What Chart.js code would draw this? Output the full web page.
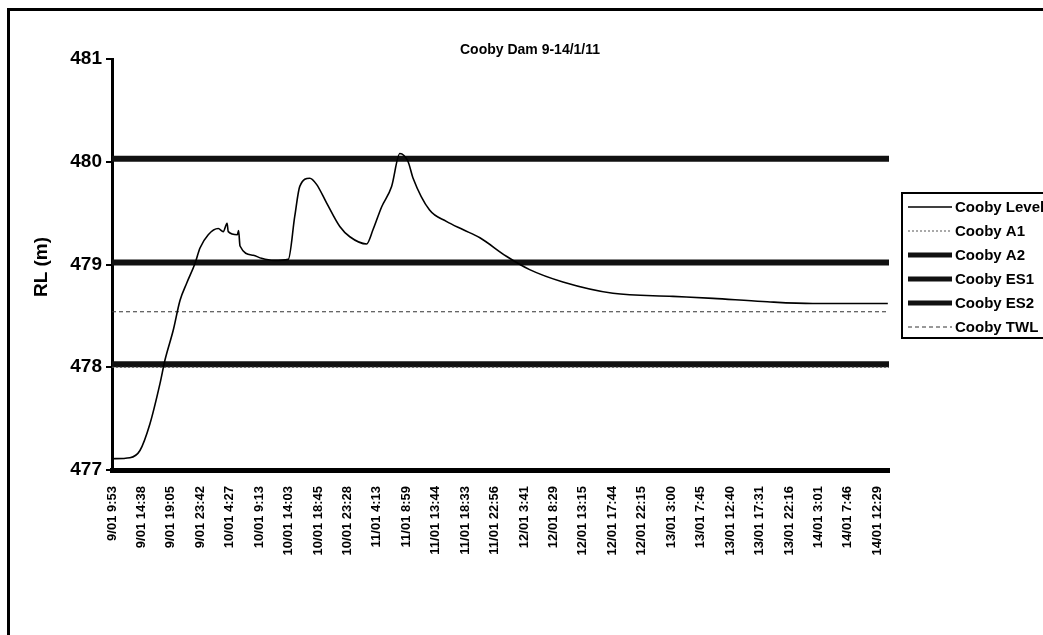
<!DOCTYPE html>
<html>
<head>
<meta charset="utf-8">
<script src="https://cdn.jsdelivr.net/npm/chart.js@4/dist/chart.umd.min.js"></script>
<style>
  html, body { margin: 0; padding: 0; background: #fff; }
  #wrap { position: relative; width: 1043px; height: 635px; overflow: hidden; }
  #frame { position: absolute; left: 7px; top: 8px; right: -10px; bottom: -10px;
           border-left: 3px solid #000; border-top: 3px solid #000; }
  canvas { position: absolute; left: 0; top: 0; }
</style>
</head>
<body>
<div id="wrap">
  <div id="frame"></div>
  <canvas id="chart" width="1043" height="635"></canvas>
</div>
<script>
// Cooby Dam storage level, 9-14 Jan 2011

const titleText = 'Cooby Dam 9-14/1/11';
const yTitle = 'RL (m)';

// category labels on the x axis (one every ~4h45)
const timeLabels = [
  '9/01 9:53', '9/01 14:38', '9/01 19:05', '9/01 23:42', '10/01 4:27',
  '10/01 9:13', '10/01 14:03', '10/01 18:45', '10/01 23:28', '11/01 4:13',
  '11/01 8:59', '11/01 13:44', '11/01 18:33', '11/01 22:56', '12/01 3:41',
  '12/01 8:29', '12/01 13:15', '12/01 17:44', '12/01 22:15', '13/01 3:00',
  '13/01 7:45', '13/01 12:40', '13/01 17:31', '13/01 22:16', '14/01 3:01',
  '14/01 7:46', '14/01 12:29'
];
const xEnd = 26.4; // last reading sits a bit past the last label

// Cooby Level, position in label units / RL (m)
const levelX = [0, 0.61, 0.95, 1.29, 1.63, 1.8, 2.08, 2.31, 2.54, 2.82, 2.99, 3.27,
  3.61, 3.78, 3.91, 3.95, 4.26, 4.3, 4.35, 4.8, 5.08, 5.5, 5.99, 6.21, 6.38, 6.72,
  6.95, 7.29, 7.74, 8.08, 8.65, 8.87, 9.16, 9.5, 9.78, 10.06, 10.23, 10.79, 11.36,
  11.92, 12.5, 13.4, 14.19, 15.32, 17.02, 19.06, 20.42, 22.11, 23.81, 26.36];
const levelY = [477.11, 477.12, 477.19, 477.45, 477.84, 478.07, 478.36, 478.65, 478.82,
  479.01, 479.16, 479.29, 479.35, 479.32, 479.40, 479.32, 479.29, 479.33, 479.18,
  479.09, 479.06, 479.04, 479.05, 479.47, 479.76, 479.84, 479.78, 479.60, 479.37,
  479.27, 479.20, 479.34, 479.56, 479.76, 480.08, 480.00, 479.84, 479.53, 479.42,
  479.34, 479.26, 479.08, 478.95, 478.83, 478.72, 478.69, 478.67, 478.64, 478.62, 478.62];

// constant reference levels (RL m)
const levelA1 = 478.00;
const levelA2 = 478.03;
const levelES1 = 479.02;
const levelES2 = 480.03;
const levelTWL = 478.54;

function flat(v) {
  return [{ x: 0, y: v }, { x: xEnd, y: v }];
}

const FONT = '"Liberation Sans", Arial, sans-serif';

const datasets = [
  { label: 'Cooby Level', data: levelX.map((x, i) => ({ x, y: levelY[i] })),
    borderColor: '#000', borderWidth: 1.6, cubicInterpolationMode: 'monotone' },
  { label: 'Cooby A1', data: flat(levelA1), borderColor: '#555', borderWidth: 1, borderDash: [2, 2] },
  { label: 'Cooby A2', data: flat(levelA2), borderColor: '#111', borderWidth: 6 },
  { label: 'Cooby ES1', data: flat(levelES1), borderColor: '#111', borderWidth: 6 },
  { label: 'Cooby ES2', data: flat(levelES2), borderColor: '#111', borderWidth: 6 },
  { label: 'Cooby TWL', data: flat(levelTWL), borderColor: '#333', borderWidth: 1, borderDash: [4, 3] },
];
datasets.forEach(d => { d.pointRadius = 0; d.fill = false; });

// title, axis title and the boxed legend are drawn by hand to sit like the Excel original
const decor = {
  id: 'decor',
  afterDraw(chart) {
    const ctx = chart.ctx;
    ctx.save();
    ctx.fillStyle = '#000';
    ctx.textAlign = 'center';
    ctx.textBaseline = 'middle';
    ctx.font = 'bold 14px ' + FONT;
    ctx.fillText(titleText, 530, 50);

    ctx.save();
    ctx.translate(42, 267);
    ctx.rotate(-Math.PI / 2);
    ctx.font = 'bold 19px ' + FONT;
    ctx.fillText(yTitle, 0, 0);
    ctx.restore();

    // legend box
    const lx = 902, ly = 193, rowH = 24;
    ctx.lineWidth = 2;
    ctx.strokeStyle = '#000';
    ctx.strokeRect(lx, ly, 160, 145);
    ctx.textAlign = 'left';
    ctx.font = 'bold 15px ' + FONT;
    chart.data.datasets.forEach((d, i) => {
      const y = ly + 14 + i * rowH;
      ctx.beginPath();
      ctx.setLineDash(d.borderDash || []);
      ctx.lineWidth = Math.min(d.borderWidth, 5);
      ctx.strokeStyle = d.borderColor;
      ctx.moveTo(908, y);
      ctx.lineTo(952, y);
      ctx.stroke();
      ctx.setLineDash([]);
      ctx.fillText(d.label, 955, y + 1);
    });
    ctx.restore();
  }
};

new Chart(document.getElementById('chart'), {
  type: 'line',
  data: { datasets },
  plugins: [decor],
  options: {
    responsive: false,
    animation: false,
    events: [],
    layout: { padding: { top: 59, right: 154, left: 0, bottom: 0 } },
    plugins: { legend: { display: false }, tooltip: { enabled: false } },
    scales: {
      x: {
        type: 'linear', min: 0, max: xEnd,
        afterBuildTicks: s => { s.ticks = timeLabels.map((_, i) => ({ value: i })); },
        afterFit: s => { s.height = 165; },
        grid: { display: false, drawOnChartArea: false },
        border: { color: '#000', width: 5 },
        ticks: {
          autoSkip: false, minRotation: 90, maxRotation: 90, padding: 8,
          color: '#000', font: { family: FONT, size: 13, weight: 'bold' },
          callback: v => timeLabels[v] ?? ''
        }
      },
      y: {
        min: 477, max: 481,
        afterFit: s => { s.width = 112; },
        grid: { drawOnChartArea: false, tickLength: 6, color: '#000', lineWidth: 2 },
        border: { color: '#000', width: 3 },
        ticks: {
          stepSize: 1, padding: 4, color: '#000',
          font: { family: FONT, size: 19, weight: 'bold' }
        }
      }
    }
  }
});
</script>
</body>
</html>
